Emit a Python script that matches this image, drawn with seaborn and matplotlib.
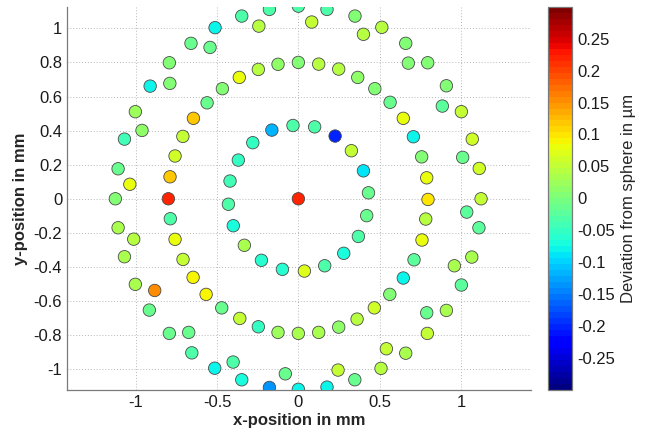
import numpy as np
import pandas as pd
import matplotlib
matplotlib.use("Agg")
import matplotlib.pyplot as plt
import seaborn as sns
from matplotlib.ticker import FuncFormatter

# ---- data ----
center_x = [0.0]
center_y = [0.0]
center_dev = [0.22]

inner_x = [-0.033, 0.100, 0.226, 0.326, 0.400, 0.431, 0.420, 0.369, 0.279, 0.162,
           0.037, -0.098, -0.227, -0.332, -0.400, -0.430, -0.420, -0.369, -0.280, -0.163]
inner_y = [0.430, 0.422, 0.368, 0.282, 0.164, 0.035, -0.099, -0.221, -0.320, -0.393,
           -0.424, -0.414, -0.361, -0.273, -0.158, -0.032, 0.104, 0.227, 0.329, 0.403]
inner_dev = [-0.03, -0.03, -0.20, 0.05, -0.09, -0.01, -0.01, -0.03, -0.07, -0.03,
             0.07, -0.06, -0.06, 0.03, -0.07, -0.03, -0.04, -0.05, -0.05, -0.12]

middle_x = [0.000, 0.125, 0.248, 0.365, 0.470, 0.564, 0.645, 0.707, 0.758, 0.789,
            0.797, 0.783, 0.760, 0.711, 0.645, 0.562, 0.467, 0.361, 0.248, 0.125,
            0.000, -0.125, -0.246, -0.360, -0.471, -0.567, -0.647, -0.709, -0.758, -0.787,
            -0.799, -0.789, -0.758, -0.710, -0.645, -0.561, -0.467, -0.363, -0.246, -0.125]
middle_y = [0.800, 0.790, 0.761, 0.712, 0.646, 0.566, 0.472, 0.364, 0.246, 0.123,
            -0.004, -0.119, -0.242, -0.358, -0.465, -0.561, -0.640, -0.706, -0.753, -0.784,
            -0.790, -0.784, -0.751, -0.702, -0.640, -0.561, -0.461, -0.356, -0.238, -0.117,
            0.000, 0.129, 0.251, 0.366, 0.472, 0.563, 0.646, 0.712, 0.759, 0.789]
middle_dev = [0.00, 0.04, 0.04, 0.01, 0.00, -0.01, 0.08, -0.08, 0.00, 0.08,
              0.10, 0.04, 0.08, -0.02, -0.08, 0.00, 0.06, 0.04, 0.01, 0.03,
              0.03, 0.02, -0.05, 0.05, -0.01, 0.09, 0.09, 0.05, 0.08, -0.03,
              0.22, 0.12, 0.06, 0.05, 0.12, -0.01, 0.00, 0.08, 0.04, 0.01]

ring4_x = [0.082, 0.400, 0.676, 0.885, 1.010, 1.035, 0.959, 0.789, 0.541, 0.244,
           -0.080, -0.401, -0.674, -0.883, -1.012, -1.036, -0.961, -0.790, -0.543, -0.243]
ring4_y = [1.037, 0.965, 0.796, 0.544, 0.243, -0.078, -0.393, -0.669, -0.880, -1.005,
           -1.027, -0.958, -0.784, -0.538, -0.237, 0.085, 0.401, 0.677, 0.888, 1.013]
ring4_dev = [0.05, 0.04, 0.00, -0.02, -0.01, -0.02, 0.03, -0.01, 0.05, 0.05,
             -0.01, -0.03, -0.01, 0.15, 0.04, 0.08, 0.01, 0.00, -0.01, 0.04]

outer_x = [0.000, 0.176, 0.348, 0.513, 0.660, 0.795, 0.910, 1.002, 1.069, 1.112,
           1.123, 1.110, 1.066, 1.002, 0.910, 0.793, 0.660, 0.508, 0.347, 0.176,
           0.000, -0.178, -0.348, -0.514, -0.655, -0.793, -0.916, -1.002, -1.069, -1.108,
           -1.125, -1.108, -1.069, -1.002, -0.911, -0.793, -0.660, -0.512, -0.348, -0.178]
outer_y = [1.130, 1.111, 1.072, 1.006, 0.912, 0.798, 0.663, 0.511, 0.350, 0.178,
           0.000, -0.170, -0.342, -0.506, -0.655, -0.790, -0.906, -0.995, -1.062, -1.105,
           -1.118, -1.107, -1.062, -0.994, -0.904, -0.790, -0.653, -0.502, -0.340, -0.170,
           0.000, 0.176, 0.350, 0.511, 0.661, 0.798, 0.912, 1.004, 1.072, 1.111]
outer_dev = [-0.03, -0.03, 0.00, 0.04, 0.00, 0.00, 0.00, 0.05, 0.06, 0.06,
             0.05, -0.02, 0.03, -0.02, 0.03, 0.05, 0.03, 0.04, -0.01, -0.08,
             -0.08, -0.14, -0.07, -0.08, -0.03, -0.01, -0.01, 0.03, 0.03, 0.03,
             0.00, -0.01, -0.04, 0.02, -0.08, 0.00, -0.01, -0.08, -0.03, -0.03]

x_ticks = [-1, -0.5, 0, 0.5, 1]
y_ticks = [-1, -0.8, -0.6, -0.4, -0.2, 0, 0.2, 0.4, 0.6, 0.8, 1]
cbar_ticks = [-0.25, -0.2, -0.15, -0.1, -0.05, 0, 0.05, 0.1, 0.15, 0.2, 0.25]

df = pd.DataFrame({
    "x": center_x + inner_x + middle_x + ring4_x + outer_x,
    "y": center_y + inner_y + middle_y + ring4_y + outer_y,
    "dev": center_dev + inner_dev + middle_dev + ring4_dev + outer_dev,
})

# ---- style ----
sns.set_style("white")
plt.rcParams["font.family"] = ["Liberation Sans", "DejaVu Sans"]
plt.rcParams["axes.unicode_minus"] = False

cmap = plt.get_cmap("jet", 64)
vmin, vmax = -0.3, 0.3
axis_grey = "#7a7a7a"

fig = plt.figure(figsize=(6.47, 4.32), dpi=100)
ax = fig.add_axes([0.1036, 0.0972, 0.7166, 0.8873])
cax = fig.add_axes([0.8475, 0.0972, 0.0371, 0.8873])

ax.set_axisbelow(True)
ax.grid(True, linestyle=(0, (1, 2)), color="#b8b8b8", linewidth=0.7)

sns.scatterplot(data=df, x="x", y="y", hue="dev", palette=cmap,
                hue_norm=(vmin, vmax), s=80, edgecolor="#4a4a4a",
                linewidth=0.6, legend=False, ax=ax, zorder=3)

ax.set_xlim(-1.422, 1.428)
ax.set_ylim(-1.122, 1.127)
ax.set_xticks(x_ticks)
ax.set_yticks(y_ticks)
fmt = FuncFormatter(lambda v, p: ("%g" % round(v, 3)))
ax.xaxis.set_major_formatter(fmt)
ax.yaxis.set_major_formatter(fmt)
ax.tick_params(direction="in", length=4, width=0.7, labelsize=12,
               color=axis_grey, labelcolor="#1a1a1a")
for side in ["top", "right"]:
    ax.spines[side].set_visible(False)
for side in ["left", "bottom"]:
    ax.spines[side].set_color(axis_grey)
    ax.spines[side].set_linewidth(0.9)

ax.set_xlabel("x-position in mm", fontsize=12, fontweight="bold", labelpad=2)
ax.set_ylabel("y-position in mm", fontsize=12, fontweight="bold", labelpad=4)

sm = matplotlib.cm.ScalarMappable(norm=matplotlib.colors.Normalize(vmin, vmax), cmap=cmap)
cb = fig.colorbar(sm, cax=cax)
cb.set_ticks(cbar_ticks)
cb.ax.yaxis.set_major_formatter(fmt)
cb.ax.tick_params(direction="in", length=3, width=0.7, labelsize=12,
                  left=True, right=True, color="#404040", labelcolor="#1a1a1a")
cb.outline.set_linewidth(0.9)
cb.outline.set_edgecolor(axis_grey)
cb.set_label("Deviation from sphere in µm", fontsize=12, labelpad=4)

fig.savefig("out.png", dpi=100)
